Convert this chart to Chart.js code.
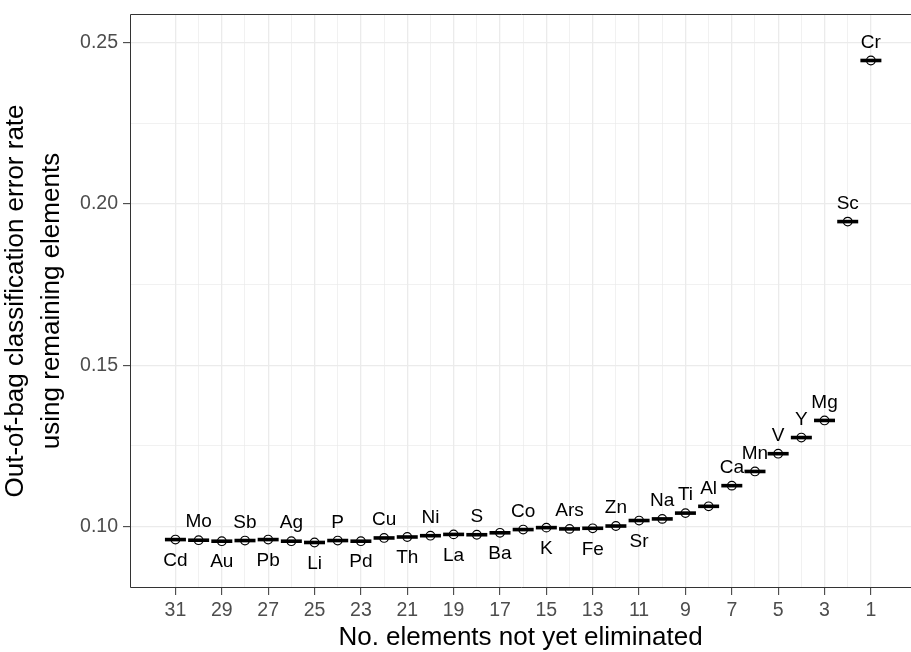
<!DOCTYPE html>
<html>
<head>
<meta charset="utf-8">
<script src="https://cdn.jsdelivr.net/npm/chart.js@4"></script>
<style>
  html, body { margin: 0; padding: 0; background: #ffffff; }
  canvas { display: block; }
</style>
</head>
<body>
<canvas id="chart" width="911" height="652"></canvas>
<script>
// Backward elimination: element removed at each step and the OOB error of the remaining set
const elements = ['Cd','Mo','Au','Sb','Pb','Ag','Li','P','Pd','Cu','Th','Ni','La','S','Ba','Co',
                  'K','Ars','Fe','Zn','Sr','Na','Ti','Al','Ca','Mn','V','Y','Mg','Sc','Cr'];
const remaining = [31,30,29,28,27,26,25,24,23,22,21,20,19,18,17,16,
                   15,14,13,12,11,10,9,8,7,6,5,4,3,2,1];
const errorRate = [0.0960,0.0958,0.0955,0.0957,0.0960,0.0955,0.0951,0.0957,0.0955,0.0965,0.0968,
                   0.0972,0.0976,0.0975,0.0981,0.0991,0.0997,0.0993,0.0995,0.1002,0.1019,0.1024,
                   0.1042,0.1063,0.1127,0.1171,0.1226,0.1276,0.1329,0.1945,0.2444];
// Labels placed under their point instead of above it
const labelBelow = ['Cd','Au','Pb','Li','Pd','Th','La','Ba','K','Fe','Sr'];

// Axis breaks
const xMajorTicks = [31,29,27,25,23,21,19,17,15,13,11,9,7,5,3,1];
const xMinorTicks = [30,28,26,24,22,20,18,16,14,12,10,8,6,4,2];
const yMajorTicks = [0.10,0.15,0.20,0.25];
const yMinorTicks = [0.125,0.175,0.225];
const yTickLabels = ['0.10','0.15','0.20','0.25'];

const FONT = "'Liberation Sans', Arial, Helvetica, sans-serif";
const GRID = '#ebebeb';
const INK = '#333333';

const points = remaining.map((n, i) => ({ x: n, y: errorRate[i] }));

const isMajorX = v => xMajorTicks.includes(v);
const isMajorY = v => yMajorTicks.some(t => Math.abs(t - v) < 1e-9);

// Panel border (top, left, bottom) in the ggplot theme_bw style
const panelBorder = {
  id: 'panelBorder',
  afterDraw(chart) {
    const { ctx, chartArea: a } = chart;
    ctx.save();
    ctx.strokeStyle = INK;
    ctx.lineWidth = 1;
    ctx.beginPath();
    ctx.moveTo(a.right + 1, a.top + 0.5);
    ctx.lineTo(a.left + 0.5, a.top + 0.5);
    ctx.lineTo(a.left + 0.5, a.bottom - 0.5);
    ctx.lineTo(a.right + 1, a.bottom - 0.5);
    ctx.stroke();
    ctx.restore();
  }
};

// Element names next to each point
const elementLabels = {
  id: 'elementLabels',
  afterDatasetsDraw(chart) {
    const { ctx, scales: { x, y } } = chart;
    ctx.save();
    ctx.font = '19px ' + FONT;
    ctx.fillStyle = '#000000';
    ctx.textAlign = 'center';
    ctx.textBaseline = 'middle';
    elements.forEach((el, i) => {
      const px = x.getPixelForValue(remaining[i]);
      const py = y.getPixelForValue(errorRate[i]);
      const dy = labelBelow.includes(el) ? 21 : -18;
      ctx.fillText(el, px, py + dy);
    });
    ctx.restore();
  }
};

new Chart(document.getElementById('chart'), {
  type: 'scatter',
  data: {
    datasets: [
      {
        // horizontal bar behind each point
        data: points,
        pointStyle: 'line',
        pointRadius: 10.5,
        pointHoverRadius: 10.5,
        pointBorderWidth: 3.6,
        borderWidth: 3.6,
        borderColor: '#000000',
        pointBorderColor: '#000000'
      },
      {
        data: points,
        pointStyle: 'circle',
        pointRadius: 4.3,
        pointHoverRadius: 4.3,
        pointBorderWidth: 1.2,
        borderWidth: 1.2,
        pointBackgroundColor: '#ffffff',
        backgroundColor: '#ffffff',
        pointBorderColor: '#000000',
        borderColor: '#000000'
      }
    ]
  },
  options: {
    responsive: false,
    animation: false,
    events: [],
    layout: { autoPadding: false, padding: { top: 14, left: 0, right: 0, bottom: 0 } },
    plugins: { legend: { display: false }, tooltip: { enabled: false } },
    scales: {
      x: {
        type: 'linear',
        reverse: true,
        min: -0.73,
        max: 32.96,
        afterBuildTicks(scale) {
          scale.ticks = xMajorTicks.concat(xMinorTicks).sort((a, b) => a - b).map(v => ({ value: v }));
        },
        afterFit(scale) {
          scale.height = 64;
          scale.paddingLeft = 0;
          scale.paddingRight = 0;
        },
        ticks: {
          autoSkip: false,
          maxRotation: 0,
          padding: 4,
          color: '#4d4d4d',
          font: { family: FONT, size: 19.5 },
          callback: v => (isMajorX(v) ? String(v) : '')
        },
        grid: {
          color: GRID,
          lineWidth: c => (c.tick && isMajorX(c.tick.value) ? 1.3 : 0.7),
          tickLength: 7,
          tickColor: c => (c.tick && isMajorX(c.tick.value) ? INK : 'rgba(0,0,0,0)'),
          tickWidth: 1
        },
        border: { display: false },
        title: {
          display: true,
          text: 'No. elements not yet eliminated',
          color: '#000000',
          font: { family: FONT, size: 26, lineHeight: 1.1 },
          padding: { top: 0, bottom: 0 }
        }
      },
      y: {
        type: 'linear',
        min: 0.081,
        max: 0.2588,
        afterBuildTicks(scale) {
          scale.ticks = yMajorTicks.concat(yMinorTicks).sort((a, b) => a - b).map(v => ({ value: v }));
        },
        afterFit(scale) {
          scale.width = 130;
          scale.paddingTop = 0;
          scale.paddingBottom = 0;
        },
        ticks: {
          padding: 5,
          color: '#4d4d4d',
          font: { family: FONT, size: 19.5 },
          callback: v => {
            const k = yMajorTicks.findIndex(t => Math.abs(t - v) < 1e-9);
            return k >= 0 ? yTickLabels[k] : '';
          }
        },
        grid: {
          color: GRID,
          lineWidth: c => (c.tick && isMajorY(c.tick.value) ? 1.3 : 0.7),
          tickLength: 7,
          tickColor: c => (c.tick && isMajorY(c.tick.value) ? INK : 'rgba(0,0,0,0)'),
          tickWidth: 1
        },
        border: { display: false },
        title: {
          display: true,
          text: ['Out-of-bag classification error rate', 'using remaining elements'],
          color: '#000000',
          font: { family: FONT, size: 26, lineHeight: 1.37 },
          padding: { top: -2, bottom: 0 }
        }
      }
    }
  },
  plugins: [panelBorder, elementLabels]
});
</script>
</body>
</html>
